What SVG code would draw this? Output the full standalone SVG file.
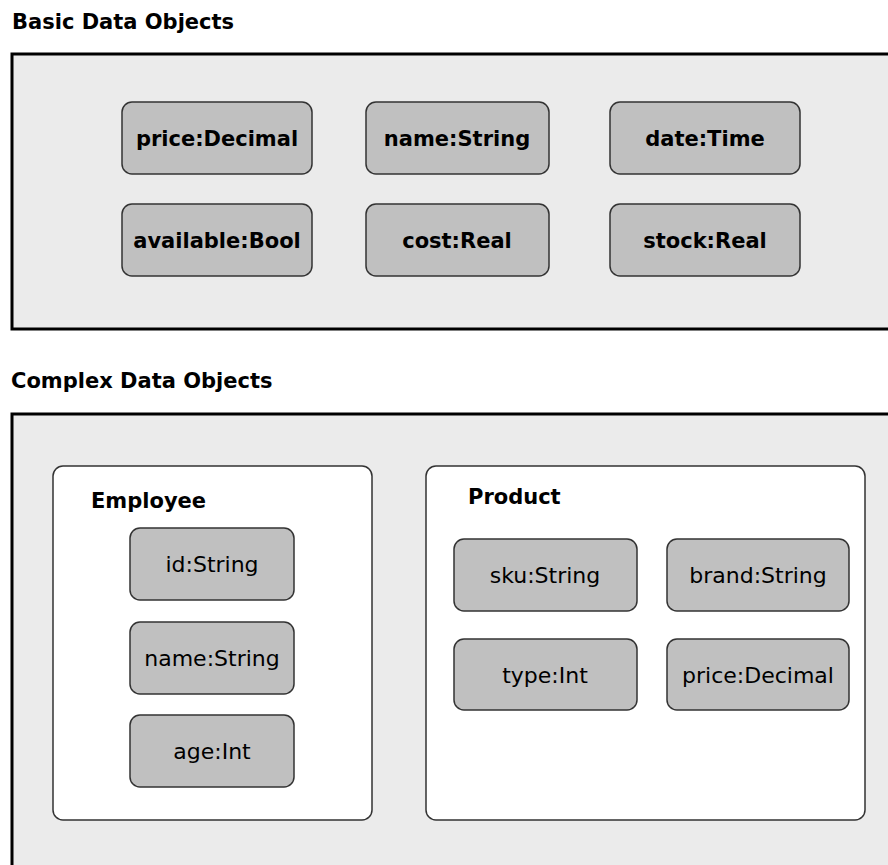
<svg xmlns="http://www.w3.org/2000/svg" width="888" height="865" viewBox="0 0 888 865">
<style>
.title{font-family:"DejaVu Sans",Verdana,sans-serif;font-weight:bold;font-size:21px;fill:#000}
.panel{fill:#ebebeb;stroke:#000;stroke-width:3}
.group{fill:#fff;stroke:#333;stroke-width:1.5}
.node{fill:#c0c0c0;stroke:#333;stroke-width:1.5}
.bl{font-family:"DejaVu Sans",Verdana,sans-serif;font-weight:bold;font-size:21px;fill:#000;text-anchor:middle}
.rl{font-family:"DejaVu Sans",Verdana,sans-serif;font-size:22px;fill:#000;text-anchor:middle}
.gl{font-family:"DejaVu Sans",Verdana,sans-serif;font-weight:bold;font-size:21px;fill:#000}
</style>
<rect width="888" height="865" fill="#fff"/>
<text class="title" x="12" y="29">Basic Data Objects</text>
<rect id="basic-panel" class="panel" x="12" y="54" width="890" height="275"/>
<g id="price"><rect class="node" x="122" y="102" width="190" height="72" rx="10"/><text class="bl" x="217" y="146">price:Decimal</text></g>
<g id="name"><rect class="node" x="366" y="102" width="183" height="72" rx="10"/><text class="bl" x="457" y="146">name:String</text></g>
<g id="date"><rect class="node" x="610" y="102" width="190" height="72" rx="10"/><text class="bl" x="705" y="146">date:Time</text></g>
<g id="available"><rect class="node" x="122" y="204" width="190" height="72" rx="10"/><text class="bl" x="217" y="248">available:Bool</text></g>
<g id="cost"><rect class="node" x="366" y="204" width="183" height="72" rx="10"/><text class="bl" x="457" y="248">cost:Real</text></g>
<g id="stock"><rect class="node" x="610" y="204" width="190" height="72" rx="10"/><text class="bl" x="705" y="248">stock:Real</text></g>
<text class="title" x="11" y="388">Complex Data Objects</text>
<rect id="complex-panel" class="panel" x="12" y="414" width="890" height="470"/>
<g id="employee">
<rect class="group" x="53" y="466" width="319" height="354" rx="10"/>
<text class="gl" x="91" y="508">Employee</text>
<g id="emp-id"><rect class="node" x="130" y="528" width="164" height="72" rx="10"/><text class="rl" x="212" y="572">id:String</text></g>
<g id="emp-name"><rect class="node" x="130" y="622" width="164" height="72" rx="10"/><text class="rl" x="212" y="666">name:String</text></g>
<g id="emp-age"><rect class="node" x="130" y="715" width="164" height="72" rx="10"/><text class="rl" x="212" y="759">age:Int</text></g>
</g>
<g id="product">
<rect class="group" x="426" y="466" width="439" height="354" rx="10"/>
<text class="gl" x="468" y="504">Product</text>
<g id="prod-sku"><rect class="node" x="454" y="539" width="183" height="72" rx="10"/><text class="rl" x="545" y="583">sku:String</text></g>
<g id="prod-brand"><rect class="node" x="667" y="539" width="182" height="72" rx="10"/><text class="rl" x="758" y="583">brand:String</text></g>
<g id="prod-type"><rect class="node" x="454" y="639" width="183" height="71" rx="10"/><text class="rl" x="545" y="683">type:Int</text></g>
<g id="prod-price"><rect class="node" x="667" y="639" width="182" height="71" rx="10"/><text class="rl" x="758" y="683">price:Decimal</text></g>
</g>
<g id="connectors"/>
</svg>
